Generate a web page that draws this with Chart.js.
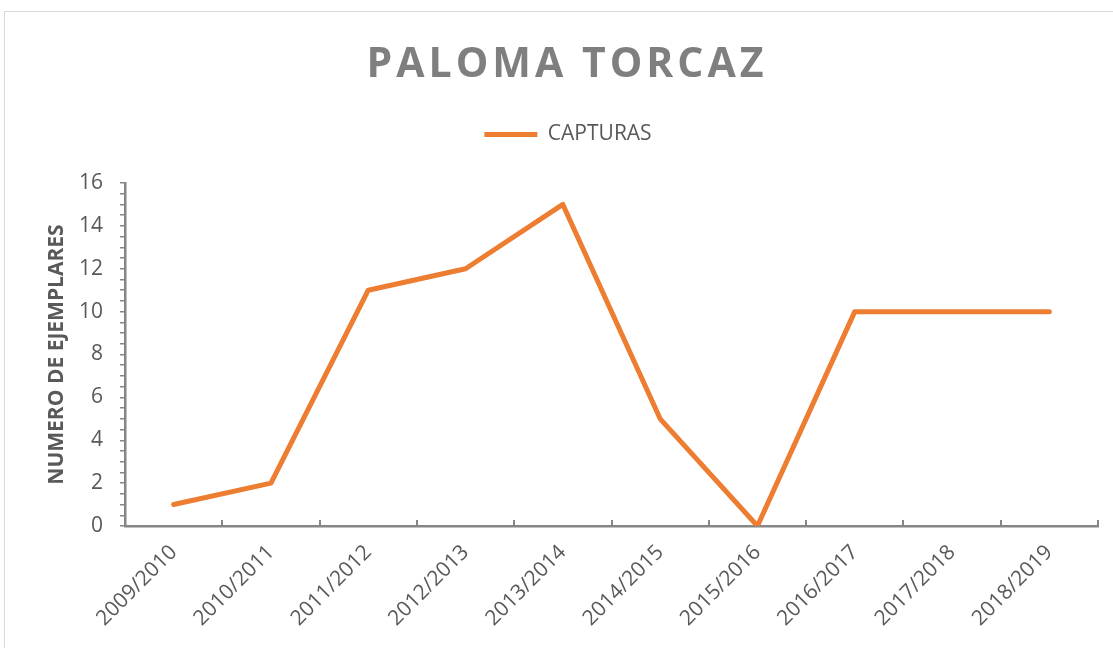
<!DOCTYPE html>
<html>
<head>
<meta charset="utf-8">
<script src="https://cdn.jsdelivr.net/npm/chart.js@4/dist/chart.umd.min.js"></script>
<style>
  body{ margin:0; background:#fff; overflow:hidden; }
  #frame{ position:absolute; left:4px; top:11px; width:1200px; height:700px; border:1px solid #d9d9d9; }
  #wrap{ position:absolute; left:0; top:0; width:1113px; height:648px; }
</style>
</head>
<body>
<div id="frame"></div>
<div id="wrap"><canvas id="chart"></canvas></div>
<script>
let chartTitle = "PALOMA TORCAZ";
let seasons = ["2009/2010","2010/2011","2011/2012","2012/2013","2013/2014","2014/2015","2015/2016","2016/2017","2017/2018","2018/2019"];
let capturas = [1, 2, 11, 12, 15, 5, 0, 10, 10, 10];
let yLabel = "NUMERO DE EJEMPLARES";

let gray = "#868686";
let textGray = "#595959";
let orange = "#ED7D31";

// title with letter spacing, drawn by hand since chart.js has no letterSpacing
let titlePlugin = {
    id: "spacedTitle",
    afterDraw: function(chart){
        let ctx = chart.ctx;
        ctx.save();
        ctx.font = "bold 41px 'Open Sans'";
        ctx.fillStyle = "#7f7f7f";
        ctx.textAlign = "center";
        ctx.textBaseline = "alphabetic";
        if ("letterSpacing" in ctx) ctx.letterSpacing = "4px";
        ctx.fillText(chartTitle, 567, 77);
        ctx.restore();
    }
};

// small upward ticks between the categories
let xTicksPlugin = {
    id: "xBoundaryTicks",
    afterDraw: function(chart){
        let x = chart.scales.x;
        let ctx = chart.ctx;
        ctx.save();
        ctx.strokeStyle = gray;
        ctx.lineWidth = 2;
        for(let i = 0; i <= seasons.length; i++){
            let px = Math.round(x.getPixelForValue(i - 0.5));
            ctx.beginPath();
            ctx.moveTo(px, x.top);
            ctx.lineTo(px, x.top - 6);
            ctx.stroke();
        }
        ctx.restore();
    }
};

new Chart(document.getElementById("chart"), {
    type: "line",
    data: {
        labels: seasons,
        datasets: [{
            label: "CAPTURAS",
            data: capturas,
            borderColor: orange,
            backgroundColor: orange,
            borderWidth: 5,
            borderCapStyle: "round",
            borderJoinStyle: "round",
            pointRadius: 0,
            tension: 0
        }]
    },
    options: {
        responsive: true,
        maintainAspectRatio: false,
        animation: false,
        layout: { padding: { top: 114, left: 38, right: 15, bottom: 0 } },
        plugins: {
            title: { display: false },
            // empty subtitle only used as a spacer between legend and plot
            subtitle: {
                display: true,
                text: " ",
                position: "top",
                weight: 500,
                font: { size: 10 },
                padding: { top: 8, bottom: 8 }
            },
            tooltip: { enabled: false },
            legend: {
                position: "top",
                labels: {
                    usePointStyle: true,
                    pointStyle: "line",
                    pointStyleWidth: 53,
                    boxHeight: 4,
                    padding: 10,
                    color: textGray,
                    font: { family: "'Open Sans'", size: 21 }
                }
            }
        },
        scales: {
            x: {
                offset: true,
                grid: { display: false },
                border: { display: true, color: gray, width: 2.5 },
                ticks: {
                    color: textGray,
                    font: { family: "'Open Sans'", size: 21 },
                    maxRotation: 45,
                    minRotation: 45,
                    padding: 6
                },
                afterFit: function(s){ s.height = 122; }
            },
            y: {
                min: 0,
                max: 16,
                grid: { display: true, drawOnChartArea: false, drawTicks: true, tickLength: 5, color: gray, lineWidth: 1.5 },
                border: { display: true, color: gray, width: 2.5 },
                ticks: {
                    stepSize: 0.5,
                    autoSkip: false,
                    color: textGray,
                    padding: 17,
                    font: { family: "'Open Sans'", size: 21 },
                    callback: function(v){ return v % 2 === 0 ? v : ""; }
                },
                title: {
                    display: true,
                    text: yLabel,
                    color: textGray,
                    padding: { top: 6, bottom: 0 },
                    font: { family: "'Open Sans'", size: 21, weight: "bold" }
                },
                afterFit: function(s){ s.width = 87; }
            }
        }
    },
    plugins: [titlePlugin, xTicksPlugin]
});
</script>
</body>
</html>
